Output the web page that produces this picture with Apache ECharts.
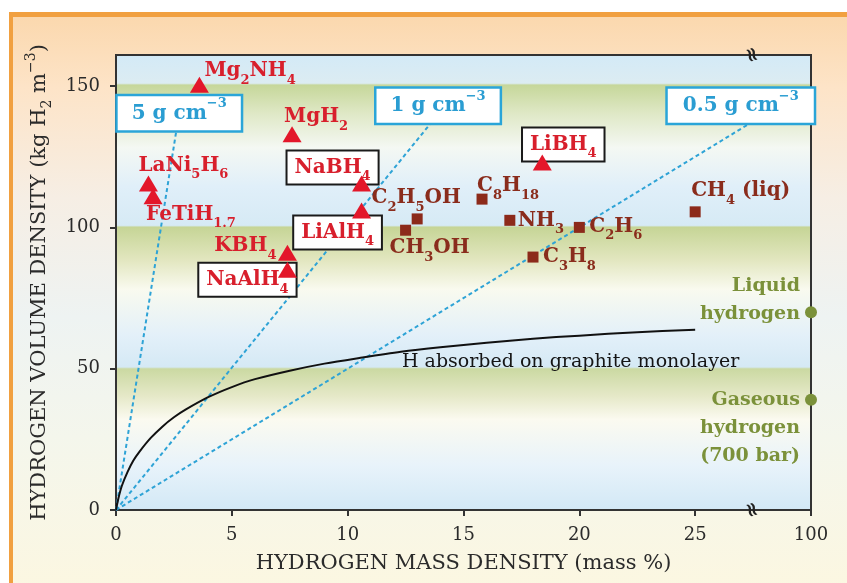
<!DOCTYPE html>
<html><head><meta charset="utf-8">
<script src="https://cdn.jsdelivr.net/npm/echarts@6.0.0/dist/echarts.min.js"></script>
<style>
html,body{margin:0;padding:0;background:#fff;}
#bg{position:absolute;left:9px;top:12px;width:860px;height:600px;border-left:4px solid #f1a040;border-top:5px solid #f1a040;
background:linear-gradient(to bottom,#fbd8ae 0%,#fde4c8 12%,#f6eee4 30%,#eef3f2 50%,#f4f6ec 70%,#fdf7df 100%);}
#c{position:absolute;left:0;top:0;width:847px;height:583px;}
</style>
</head><body><div id="bg"></div><div id="c"></div>
<script>
// ---------- data ----------
const xTickValues = [0, 5, 10, 15, 20, 25, 30];
const xTickLabels = ['0', '5', '10', '15', '20', '25', '100'];
const yTickValues = [0, 50, 100, 150];

const hydrideNames  = ['Mg_2NH_4', 'MgH_2', 'LaNi_5H_6', 'FeTiH_{1.7}', 'NaBH_4', 'LiAlH_4', 'KBH_4', 'NaAlH_4', 'LiBH_4'];
const hydrideMass   = [3.6, 7.6, 1.4, 1.6, 10.6, 10.6, 7.4, 7.4, 18.4];
const hydrideVolume = [150.5, 133, 115.5, 111, 115.5, 106, 91, 85, 123];

const fuelNames  = ['C_2H_5OH', 'CH_3OH', 'C_8H_{18}', 'NH_3', 'C_2H_6', 'C_3H_8', 'CH_4 (liq)'];
const fuelMass   = [13.0, 12.5, 15.8, 17.0, 20.0, 18.0, 25.0];
const fuelVolume = [103, 99, 110, 102.5, 100, 89.5, 105.5];

const h2Names  = ['Liquid\nhydrogen', 'Gaseous\nhydrogen\n(700 bar)'];
const h2Mass   = [100, 100];
const h2Volume = [70, 39];

const densityNames     = ['5 g cm^-3', '1 g cm^-3', '0.5 g cm^-3'];
const densityEndMass   = [2.6, 13.6, 27.4];
const densityEndVolume = [134, 137, 137];

const graphiteLabel  = 'H absorbed on graphite monolayer';
const graphiteMass   = [0, 0.1, 0.25, 0.5, 0.75, 1, 1.5, 2, 2.5, 3, 4, 5, 6, 7.5, 9, 10.5, 12.3, 14, 16, 18, 20, 22.5, 25];
const graphiteVolume = [0, 4, 8.5, 13.5, 17.5, 20.5, 25.5, 29.5, 32.8, 35.5, 40, 43.5, 46.3, 49.3, 51.8, 53.8, 56, 57.6, 59.2, 60.6, 61.7, 62.9, 63.8];

// ---------- helpers ----------
const SERIF = 'DejaVu Serif';
// the axis is broken after 25: the "100" mark sits at position 30
const toAxis = v => (v === 100 ? 30 : v);

function rich(s) {
  let out = '', buf = '', i = 0;
  const flush = () => { if (buf) { out += '{n|' + buf + '}'; buf = ''; } };
  while (i < s.length) {
    const c = s[i];
    if (c === '_' || c === '^') {
      flush();
      let t;
      if (s[i + 1] === '{') { const j = s.indexOf('}', i); t = s.slice(i + 2, j); i = j + 1; }
      else { let j = i + 1; while (j < s.length && /[0-9\-.]/.test(s[j])) j++; t = s.slice(i + 1, j); i = j; }
      out += '{' + (c === '_' ? 's' : 'p') + '|' + t.replace('-', '\u2212') + '}';
    } else if (c === '\n') { flush(); out += '\n'; i++; }
    else { buf += c; i++; }
  }
  flush();
  return out;
}
const richStyles = {
  n: { fontSize: 20, lineHeight: 32 },
  s: { fontSize: 13, lineHeight: 13, verticalAlign: 'bottom' },
  p: { fontSize: 13, lineHeight: 16, verticalAlign: 'top' }
};

// label placement (pixels from the mark centre): [align, dx, dy, boxed]
const hydridePlace = {
  'Mg_2NH_4': ['left', 5, -14], 'MgH_2': ['left', -8, -17], 'LaNi_5H_6': ['left', -10, -18],
  'FeTiH_{1.7}': ['left', -7, 18], 'NaBH_4': ['center', -29, -16, true], 'LiAlH_4': ['center', -24, 22, true],
  'KBH_4': ['right', -11, -7], 'NaAlH_4': ['center', -40, 10, true], 'LiBH_4': ['center', 21, -18, true]
};
const fuelPlace = {
  'C_2H_5OH': ['center', -1, -21], 'CH_3OH': ['center', 24, 18], 'C_8H_{18}': ['left', -5, -13],
  'NH_3': ['left', 8, 0], 'C_2H_6': ['left', 10, -1], 'C_3H_8': ['left', 10, 0], 'CH_4 (liq)': ['left', -4, -21]
};
const h2Place = [[-11, -12], [-11, 28]];
const densityPlace = [[3, -18, 14], [7, -17, 14], [-10, -17, 15]];

function labelFor(place) {
  const lab = {
    show: true, position: 'inside', align: place[0], verticalAlign: 'middle',
    offset: [place[1], place[2]]
  };
  if (place[3]) {
    Object.assign(lab, { backgroundColor: '#fff', borderColor: '#1a1a1a', borderWidth: 2, padding: [0, 7] });
  }
  return lab;
}

// triangles: plain labels go with the marks; boxed labels are drawn by a lower series so marks sit on top
const hydrideData = hydrideNames.map((n, i) => ({
  name: n, value: [toAxis(hydrideMass[i]), hydrideVolume[i]],
  label: hydridePlace[n][3] ? { show: false } : labelFor(hydridePlace[n])
}));
const hydrideBoxData = hydrideNames.map((n, i) => ({
  name: n, value: [toAxis(hydrideMass[i]), hydrideVolume[i]],
  label: hydridePlace[n][3] ? labelFor(hydridePlace[n]) : { show: false }
}));
const fuelData = fuelNames.map((n, i) => ({
  name: n, value: [toAxis(fuelMass[i]), fuelVolume[i]], label: labelFor(fuelPlace[n])
}));
const h2Data = h2Names.map((n, i) => ({
  name: n, value: [toAxis(h2Mass[i]), h2Volume[i]],
  label: { show: true, position: 'inside', align: 'right', verticalAlign: 'middle', offset: h2Place[i] }
}));

const densitySeries = densityNames.map((n, i) => ({
  type: 'line', name: n, z: 3,
  symbol: 'circle', symbolSize: 1, showSymbol: true, silent: true,
  itemStyle: { color: 'rgba(0,0,0,0)' },
  lineStyle: { color: '#2ea3d6', width: 2, type: [4, 3] },
  data: [
    { value: [0, 0] },
    {
      name: n, value: [densityEndMass[i], densityEndVolume[i]],
      label: {
        show: true, position: 'inside', align: 'center', verticalAlign: 'middle',
        offset: [densityPlace[i][0], densityPlace[i][1]],
        formatter: p => rich(p.name),
        color: '#2a9dd2', fontFamily: SERIF, fontWeight: 'bold', fontSize: 20,
        backgroundColor: '#fff', borderColor: '#2aa5d8', borderWidth: 2.5,
        padding: [1, densityPlace[i][2], 1, densityPlace[i][2]],
        rich: { n: { fontSize: 20, lineHeight: 32 }, p: { fontSize: 13, lineHeight: 16, verticalAlign: 'top' } }
      }
    }
  ]
}));

const labelIdx = graphiteMass.indexOf(12.3);
const graphiteData = graphiteMass.map((x, i) => {
  const it = { value: [x, graphiteVolume[i]] };
  if (i === labelIdx) {
    it.label = { show: true, position: 'inside', align: 'left', verticalAlign: 'middle', offset: [1, 10],
      formatter: graphiteLabel, color: '#151515', fontFamily: SERIF, fontSize: 19 };
  }
  return it;
});

// ---------- chart ----------
const chart = echarts.init(document.getElementById('c'), null, { renderer: 'canvas' });

const plotBg = new echarts.graphic.LinearGradient(0, 0, 0, 1, [
  { offset: 0.00, color: '#d3eaf7' },
  { offset: 0.064, color: '#dcecf2' },
  { offset: 0.068, color: '#c6d79a' },
  { offset: 0.13, color: '#dfe8c6' },
  { offset: 0.205, color: '#f4f8f3' },
  { offset: 0.29, color: '#e0eff9' },
  { offset: 0.375, color: '#d6eaf5' },
  { offset: 0.379, color: '#c6d596' },
  { offset: 0.45, color: '#e2e6bf' },
  { offset: 0.515, color: '#f9faef' },
  { offset: 0.615, color: '#e3f0f9' },
  { offset: 0.685, color: '#d5e9f5' },
  { offset: 0.689, color: '#cbd9a2' },
  { offset: 0.75, color: '#e6e9c9' },
  { offset: 0.80, color: '#fbfaf0' },
  { offset: 0.90, color: '#e8f3fa' },
  { offset: 1.00, color: '#d2e8f6' }
]);

const axisFont = { fontFamily: SERIF, fontSize: 18, color: '#2b2b2b' };
const redLabel = { show: true, opacity: 1, formatter: p => rich(p.name), color: '#d81f2c', fontFamily: SERIF, fontWeight: 'bold', fontSize: 20, rich: richStyles };

chart.setOption({
  animation: false,
  backgroundColor: 'transparent',
  grid: {
    left: 116, right: 36, top: 55, bottom: 73, outerBoundsMode: 'none', containLabel: false,
    show: true, backgroundColor: plotBg, borderColor: '#333', borderWidth: 2
  },
  xAxis: {
    type: 'value', min: 0, max: 30, interval: 5,
    name: 'HYDROGEN MASS DENSITY (mass %)', nameLocation: 'middle', nameGap: 43,
    nameTextStyle: { fontFamily: SERIF, fontSize: 21, color: '#2b2b2b' },
    axisLine: { show: true, onZero: false, lineStyle: { color: '#333', width: 2 } },
    axisTick: { show: true, inside: false, length: 6, lineStyle: { color: '#333', width: 2 }, customValues: xTickValues },
    axisLabel: Object.assign({ margin: 16, customValues: xTickValues,
      formatter: v => xTickLabels[xTickValues.indexOf(v)] }, axisFont),
    splitLine: { show: false }
  },
  yAxis: {
    type: 'value', min: 0, max: 161, interval: 50,
    name: '{n|HYDROGEN VOLUME DENSITY (kg H}{s|2}{n| m}{p|\u22123}{n|)}', nameLocation: 'middle', nameGap: 56, nameRotate: 90,
    nameTextStyle: { fontFamily: SERIF, fontSize: 21, color: '#2b2b2b',
      rich: { n: { fontSize: 21, lineHeight: 30 }, s: { fontSize: 14, lineHeight: 14, verticalAlign: 'bottom' },
              p: { fontSize: 14, lineHeight: 16, verticalAlign: 'top' } } },
    axisLine: { show: true, onZero: false, lineStyle: { color: '#333', width: 2 } },
    axisTick: { show: true, inside: false, length: 6, lineStyle: { color: '#333', width: 2 }, customValues: yTickValues },
    axisLabel: Object.assign({ margin: 16, customValues: yTickValues }, axisFont),
    splitLine: { show: false }
  },
  series: [
    ...densitySeries,
    {
      type: 'line', name: 'graphite', z: 4, smooth: 0.3, silent: true,
      symbol: 'circle', symbolSize: 1, showSymbol: true,
      itemStyle: { color: 'rgba(0,0,0,0)' },
      lineStyle: { color: '#111', width: 2 },
      label: { show: false },
      data: graphiteData
    },
    {
      type: 'scatter', name: 'fuels', z: 5, symbol: 'rect', symbolSize: 11, silent: true,
      itemStyle: { color: '#8c2a1a', opacity: 1 },
      label: { show: true, opacity: 1, formatter: p => rich(p.name), color: '#8a2c1c', fontFamily: SERIF, fontWeight: 'bold', fontSize: 20, rich: richStyles },
      data: fuelData
    },
    {
      type: 'scatter', name: 'hydrideBoxes', z: 6, symbol: 'circle', symbolSize: 1, silent: true,
      itemStyle: { color: 'rgba(0,0,0,0)' },
      label: redLabel,
      data: hydrideBoxData
    },
    {
      type: 'scatter', name: 'hydrides', z: 7, symbol: 'triangle', symbolSize: [19, 16], silent: true,
      itemStyle: { color: '#e3172a', opacity: 1 },
      label: redLabel,
      data: hydrideData
    },
    {
      type: 'scatter', name: 'hydrogen', z: 7, symbol: 'circle', symbolSize: 12, silent: true,
      itemStyle: { color: '#7b913a', opacity: 1 },
      label: { show: true, opacity: 1, formatter: p => p.name, color: '#7b913a', fontFamily: SERIF, fontWeight: 'bold', fontSize: 19, lineHeight: 28 },
      data: h2Data
    }
  ]
});

// axis-break marks between 25 and 100
const pB = chart.convertToPixel({ xAxisIndex: 0, yAxisIndex: 0 }, [27.4, 0]);
const pT = chart.convertToPixel({ xAxisIndex: 0, yAxisIndex: 0 }, [27.4, 161]);
const breakMark = p => ({
  type: 'text', x: p[0], y: p[1], rotation: -1.25, z: 100,
  style: { text: '\u2248', fill: '#222', fontSize: 20, fontWeight: 'bold', fontFamily: SERIF, align: 'center', verticalAlign: 'middle' }
});
chart.setOption({ graphic: [breakMark(pB), breakMark(pT)] });
</script>
</body></html>
